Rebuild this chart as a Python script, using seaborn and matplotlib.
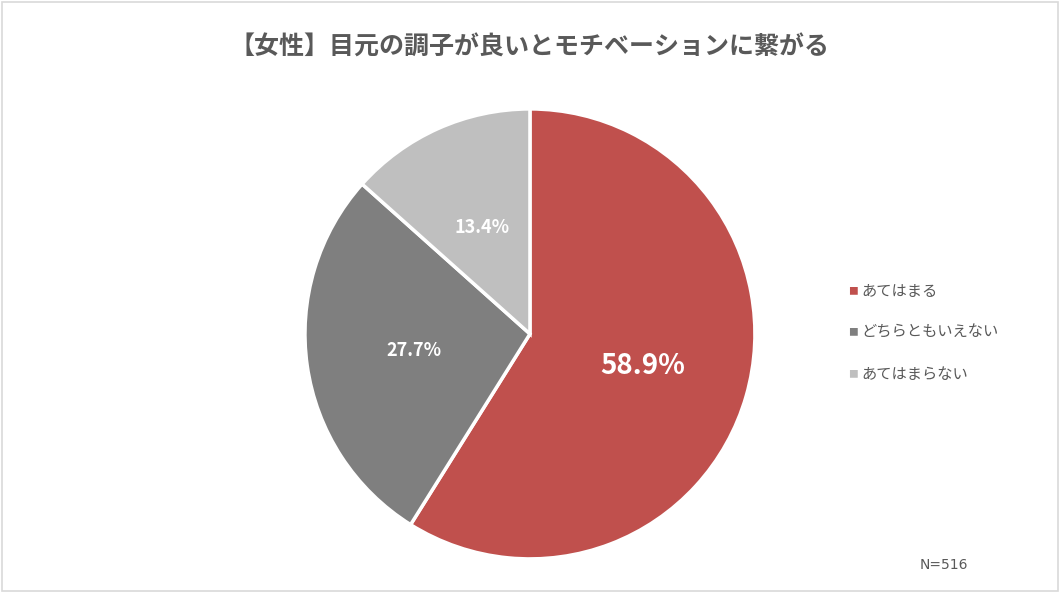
import matplotlib
matplotlib.use("Agg")
import matplotlib.pyplot as plt
import seaborn as sns

labels = ["あてはまる", "どちらともいえない", "あてはまらない"]
values = [58.9, 27.7, 13.4]
colors = ["#C0504D", "#7F7F7F", "#BFBFBF"]
title = "【女性】目元の調子が良いとモチベーションに繋がる"
note = "N=516"

sns.set_style("white")
plt.rcParams['font.family'] = ['Noto Sans CJK JP', 'DejaVu Sans']

fig = plt.figure(figsize=(10.6, 5.93), dpi=100)
fig.patches.append(plt.Rectangle((0.002, 0.003), 0.996, 0.994, transform=fig.transFigure,
                                 fill=False, edgecolor="#D9D9D9", linewidth=1.2))
ax = fig.add_axes([0.2877, 0.0574, 0.4245, 0.759])
wedges, texts, autotexts = ax.pie(values, colors=colors, startangle=90, counterclock=False,
                                  autopct="%.1f%%", pctdistance=0.52,
                                  wedgeprops=dict(edgecolor="white", linewidth=2.5))
for i, t in enumerate(autotexts):
    t.set_color("white")
    t.set_fontweight("bold")
    t.set_fontsize(20 if i == 0 else 13)
ax.set_xlim(-1, 1)
ax.set_ylim(-1, 1)
ax.set_aspect("equal")

fig.text(0.5, 0.92, title, ha="center", va="center", fontsize=18, fontweight="bold", color="#595959")
for i, (lab, c) in enumerate(zip(labels, colors)):
    y = 1 - (291 + i * 41.5) / 593
    fig.text(0.80, y, "■", color=c, fontsize=7, va="center")
    fig.text(0.813, y, lab, color="#595959", fontsize=11, va="center")
fig.text(0.868, 1 - 565 / 593, note, color="#595959", fontsize=10, va="center", family="DejaVu Sans")

fig.savefig("out.png", dpi=100)
